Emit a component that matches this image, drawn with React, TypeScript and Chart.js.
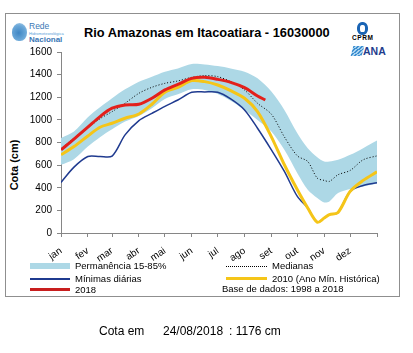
import React, { useEffect, useRef } from "react";
import { Chart, registerables } from "chart.js";
Chart.register(...registerables);

const months = ["jan", "fev", "mar", "abr", "mai", "jun", "jul", "ago", "set", "out", "nov", "dez"];
const monthStartDays = [0, 31, 59, 90, 120, 151, 181, 212, 243, 273, 304, 334, 365];

const days = [0, 15, 31, 45, 59, 74, 90, 105, 120, 135, 151, 166, 181, 196, 212, 227, 243, 258, 273, 285, 296, 304, 310, 320, 334, 349, 365];
const band85 = [840, 897, 1023, 1111, 1191, 1270, 1338, 1382, 1426, 1455, 1494, 1490, 1476, 1455, 1426, 1367, 1250, 1088, 882, 750, 670, 632, 632, 647, 691, 750, 817];
const band15 = [603, 653, 764, 847, 917, 985, 1035, 1103, 1185, 1226, 1270, 1264, 1229, 1170, 1088, 1000, 897, 735, 529, 382, 309, 270, 279, 353, 388, 412, 435];
const medianas = [745, 840, 930, 1010, 1073, 1147, 1235, 1288, 1323, 1344, 1376, 1391, 1382, 1338, 1264, 1147, 1050, 850, 682, 632, 485, 465, 456, 515, 553, 647, 682];
const minimas = [447, 582, 676, 676, 680, 867, 994, 1058, 1120, 1176, 1244, 1247, 1244, 1185, 1088, 926, 735, 544, 323, 221, 95, 132, 162, 182, 368, 420, 445];
const ano2010 = [691, 764, 858, 935, 970, 1014, 1052, 1138, 1245, 1288, 1347, 1338, 1308, 1258, 1191, 1073, 850, 603, 382, 221, 95, 132, 162, 182, 368, 465, 541];
const days2018 = [0, 15, 31, 45, 59, 74, 90, 105, 120, 135, 151, 166, 181, 196, 212, 227, 236];
const cota2018 = [735, 830, 935, 1029, 1103, 1132, 1138, 1191, 1265, 1314, 1367, 1376, 1358, 1332, 1285, 1211, 1176];
const yTicks = [0, 200, 400, 600, 800, 1000, 1200, 1400, 1600];

const FONT = '"Liberation Sans", Arial, sans-serif';
const C_BAND = "#ADD8E6";
const C_MIN = "#1F3A8F";
const C_RED = "#E3201B";
const C_YEL = "#F5C518";

const pts = (xs: number[], ys: number[]) => xs.map((x, i) => ({ x, y: ys[i] }));

export default function App() {
  const ref = useRef<HTMLCanvasElement>(null);
  useEffect(() => {
    const chart = new Chart(ref.current!, {
      type: "line",
      data: {
        datasets: [
          { label: "2018", data: pts(days2018, cota2018), borderColor: C_RED, borderWidth: 3, order: 1 },
          { label: "2010 (Ano Mín. Histórica)", data: pts(days, ano2010), borderColor: C_YEL, borderWidth: 3, order: 2 },
          { label: "Mínimas diárias", data: pts(days, minimas), borderColor: C_MIN, borderWidth: 1.5, order: 3 },
          { label: "Medianas", data: pts(days, medianas), borderColor: "#000", borderWidth: 1, borderDash: [1, 2], order: 4 },
          { label: "P85", data: pts(days, band85), borderColor: "rgba(0,0,0,0)", borderWidth: 0, backgroundColor: C_BAND, fill: "+1", order: 5 },
          { label: "P15", data: pts(days, band15), borderColor: "rgba(0,0,0,0)", borderWidth: 0, fill: false, order: 6 },
        ] as any,
      },
      options: {
        responsive: false,
        animation: false,
        events: [],
        layout: { padding: { left: 0, top: 52, right: 36, bottom: 90 } },
        elements: { point: { radius: 0 }, line: { tension: 0.3 } },
        plugins: { legend: { display: false }, tooltip: { enabled: false }, title: { display: false } },
        scales: {
          x: {
            type: "linear",
            min: 0,
            max: 365,
            afterBuildTicks: (axis: any) => {
              axis.ticks = monthStartDays.map((v) => ({ value: v }));
            },
            afterFit: (s: any) => {
              s.height = 30;
            },
            ticks: {
              autoSkip: false,
              minRotation: 34,
              maxRotation: 34,
              padding: 8,
              color: "#000",
              font: { family: FONT, size: 10 },
              callback: (v: any) => {
                const i = monthStartDays.indexOf(Number(v));
                return i >= 0 && i < 12 ? months[i] : "";
              },
            },
            grid: { drawOnChartArea: false, drawTicks: true, tickLength: 4, color: "#868686" },
            border: { color: "#868686" },
          },
          y: {
            type: "linear",
            min: 0,
            max: 1600,
            afterBuildTicks: (axis: any) => {
              axis.ticks = yTicks.map((v) => ({ value: v }));
            },
            afterFit: (s: any) => {
              s.width = 61;
            },
            ticks: { padding: 5, color: "#000", font: { family: FONT, size: 10 }, callback: (v: any) => String(v) },
            grid: { drawOnChartArea: false, drawTicks: true, tickLength: 4, color: "#868686" },
            border: { color: "#868686" },
          },
        },
      } as any,
    });
    return () => chart.destroy();
  }, []);

  const txt = (s: any) => ({ position: "absolute" as const, whiteSpace: "nowrap" as const, lineHeight: 1, ...s });

  return (
    <div style={{ position: "absolute", left: 0, top: 0, width: 413, height: 353, background: "#fff", fontFamily: FONT, overflow: "hidden", color: "#000" }}>
      <div style={{ position: "absolute", left: 5, top: 13, width: 393, height: 282, border: "1.5px solid #8f8f8f" }} />
      {/* left logo */}
      <div style={{ position: "absolute", left: 12, top: 23, width: 15, height: 18, borderRadius: "50% 50% 45% 45%", background: "radial-gradient(circle at 45% 55%, #3f86c4 0%, #6aa7d8 55%, #b9d8ef 100%)" }} />
      <div style={txt({ left: 29, top: 22, fontSize: 8.5, color: "#3a77b5" })}>Rede</div>
      <div style={txt({ left: 29, top: 32, fontSize: 4, color: "#5aa0d8" })}>Hidrometeorológica</div>
      <div style={txt({ left: 29, top: 36, fontSize: 8, color: "#3a77b5", fontWeight: "bold" })}>Nacional</div>
      {/* title */}
      <div style={txt({ left: 84, top: 27, fontSize: 12.8, fontWeight: "bold" })}>Rio Amazonas em Itacoatiara - 16030000</div>
      {/* CPRM logo */}
      <div style={{ position: "absolute", left: 357, top: 22, width: 5, height: 7, border: "3px solid #1a64b4", borderRadius: "45%" }} />
      <div style={txt({ left: 352, top: 35, fontSize: 6.5, fontWeight: "bold", letterSpacing: 0.6 })}>CPRM</div>
      {/* ANA logo */}
      <div style={{ position: "absolute", left: 352, top: 46, width: 11, height: 10, background: "repeating-linear-gradient(135deg, #3e8fd0 0px, #3e8fd0 1.5px, #a9d3f0 1.5px, #a9d3f0 3px)", transform: "skewX(-15deg)" }} />
      <div style={txt({ left: 363, top: 46, fontSize: 10.5, fontWeight: "bold", color: "#1f3d8c" })}>ANA</div>
      {/* y axis title */}
      <div style={txt({ left: 14, top: 165, fontSize: 11, fontWeight: "bold", transform: "translate(-50%,-50%) rotate(-90deg)" })}>Cota (cm)</div>
      <canvas ref={ref} width={413} height={353} style={{ position: "absolute", left: 0, top: 0, width: 413, height: 353 }} />
      {/* legend */}
      <div style={{ position: "absolute", left: 30, top: 263, width: 40, height: 5.5, background: C_BAND }} />
      <div style={txt({ left: 75, top: 261, fontSize: 9.5 })}>Permanência 15-85%</div>
      <div style={{ position: "absolute", left: 30, top: 278, width: 40, height: 1.5, background: C_MIN }} />
      <div style={txt({ left: 75, top: 273.5, fontSize: 9.5 })}>Mínimas diárias</div>
      <div style={{ position: "absolute", left: 30, top: 288, width: 40, height: 3, background: "#C81E1E" }} />
      <div style={txt({ left: 75, top: 285, fontSize: 9.5 })}>2018</div>
      <div style={{ position: "absolute", left: 226, top: 265.5, width: 41, height: 0, borderTop: "1px dotted #000" }} />
      <div style={txt({ left: 272, top: 261, fontSize: 9.5 })}>Medianas</div>
      <div style={{ position: "absolute", left: 226, top: 277, width: 41, height: 2.5, background: C_YEL }} />
      <div style={txt({ left: 272, top: 273.5, fontSize: 9.5 })}>2010 (Ano Mín. Histórica)</div>
      <div style={txt({ left: 222, top: 284, fontSize: 9.5 })}>Base de dados: 1998 a 2018</div>
      {/* bottom text */}
      <div style={txt({ left: 99, top: 325, fontSize: 12 })}>Cota em</div>
      <div style={txt({ left: 163, top: 325, fontSize: 12 })}>24/08/2018</div>
      <div style={txt({ left: 229, top: 325, fontSize: 12 })}>: 1176 cm</div>
    </div>
  );
}
